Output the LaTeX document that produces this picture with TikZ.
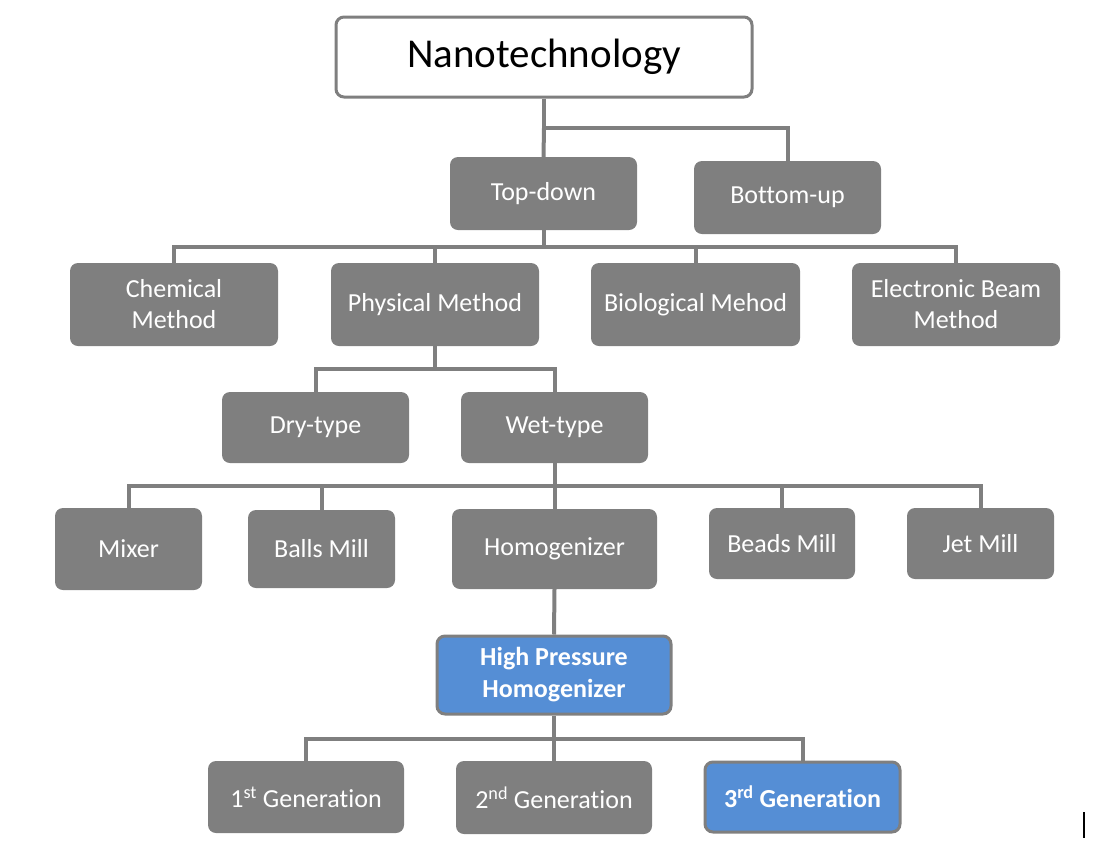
\documentclass[tikz,border=0pt]{standalone}
\usepackage{fontspec}
\setmainfont{Carlito}[Ligatures={NoCommon}]
\definecolor{boxgray}{HTML}{7F7F7F}
\definecolor{boxblue}{HTML}{558ED5}
\tikzset{
  box/.style={rounded corners=8pt,fill=boxgray,text=white,align=center,inner sep=0pt,
    font=\fontsize{26}{31}\selectfont},
  hibox/.style={box,fill=boxblue,draw=boxgray,line width=3pt,font=\fontsize{26}{32}\selectfont\bfseries},
  link/.style={draw=boxgray,line width=4pt}
}
\begin{document}
\begin{tikzpicture}[x=1pt,y=-1pt]
\useasboundingbox (0,0) rectangle (1093,847);

        \node[rounded corners=8pt,draw=boxgray,line width=3pt,fill=white,inner sep=0pt,
          minimum width=416pt,minimum height=80pt,font=\fontsize{41}{48}\selectfont]
          (nano) at (544,57) {Nanotechnology};

        \begin{scope}[every node/.style={box}]
          \node[minimum width=187pt,minimum height=73pt] (topdown)  at (543.5,193.5) {Top-down};
          \node[minimum width=187pt,minimum height=73pt] (bottomup) at (787.5,197.5) {Bottom-up};

          \node[minimum width=208pt,minimum height=83pt] (chem) at (174,304.5)   {Chemical\\Method};
          \node[minimum width=208pt,minimum height=83pt] (phys) at (435,304.5)   {Physical Method};
          \node[minimum width=209pt,minimum height=83pt] (bio)  at (695.5,304.5) {Biological Mehod};
          \node[minimum width=208pt,minimum height=83pt] (ebm)  at (956,304.5)   {Electronic Beam\\Method};

          \node[minimum width=187pt,minimum height=71pt] (dry) at (315.5,427.5) {Dry-type};
          \node[minimum width=187pt,minimum height=71pt] (wet) at (554.5,427.5) {Wet-type};

          \node[minimum width=147pt,minimum height=82pt] (mixer) at (128.5,549) {Mixer};
          \node[minimum width=147pt,minimum height=78pt] (balls) at (321.5,549) {Balls Mill};
          \node[minimum width=205pt,minimum height=80pt] (homo)  at (554.5,549) {Homogenizer};
          \node[minimum width=146pt,minimum height=71pt] (beads) at (782,543.5) {Beads Mill};
          \node[minimum width=147pt,minimum height=71pt] (jet)   at (980.5,543.5) {Jet Mill};

          \node[hibox,minimum width=234pt,minimum height=78pt] (hph) at (554,675) {High Pressure\\Homogenizer};

          \node[minimum width=196pt,minimum height=72pt] (gen1) at (306,797)   {1\textsuperscript{st} Generation};
          \node[minimum width=196pt,minimum height=73pt] (gen2) at (554,797.5) {2\textsuperscript{nd} Generation};
          \node[hibox,minimum width=195pt,minimum height=70pt] (gen3) at (802.5,797) {3\textsuperscript{rd} Generation};
        \end{scope}

        % bus levels
        \coordinate (b1) at (0,128);
        \coordinate (b2) at (0,247);
        \coordinate (b3) at (0,369);
        \coordinate (b4) at (0,486);
        \coordinate (b5) at (0,739);

        \begin{scope}[every path/.style={link}]
          \path (nano.south) -- (nano.south |- b1) -| (bottomup.north);
          \path (nano.south |- b1) -- (topdown.north);

          \path (topdown.south) -- (topdown.south |- b2);
          \path (chem.north) |- (ebm.north |- b2) -- (ebm.north);
          \path (phys.north) -- (phys.north |- b2);
          \path (bio.north) -- (bio.north |- b2);

          \path (phys.south) -- (phys.south |- b3);
          \path (dry.north) |- (wet.north |- b3) -- (wet.north);

          \path (wet.south) -- (homo.north);
          \path (mixer.north) |- (jet.north |- b4) -- (jet.north);
          \path (balls.north) -- (balls.north |- b4);
          \path (beads.north) -- (beads.north |- b4);

          \path (homo.south) -- (hph.north);

          \path (hph.south) -- (gen2.north);
          \path (gen1.north) |- (gen3.north |- b5) -- (gen3.north);
        \end{scope}

        % stray cursor mark
        \draw[line width=2pt] (1083.5,812) -- (1083.5,838);

\end{tikzpicture}
\end{document}
